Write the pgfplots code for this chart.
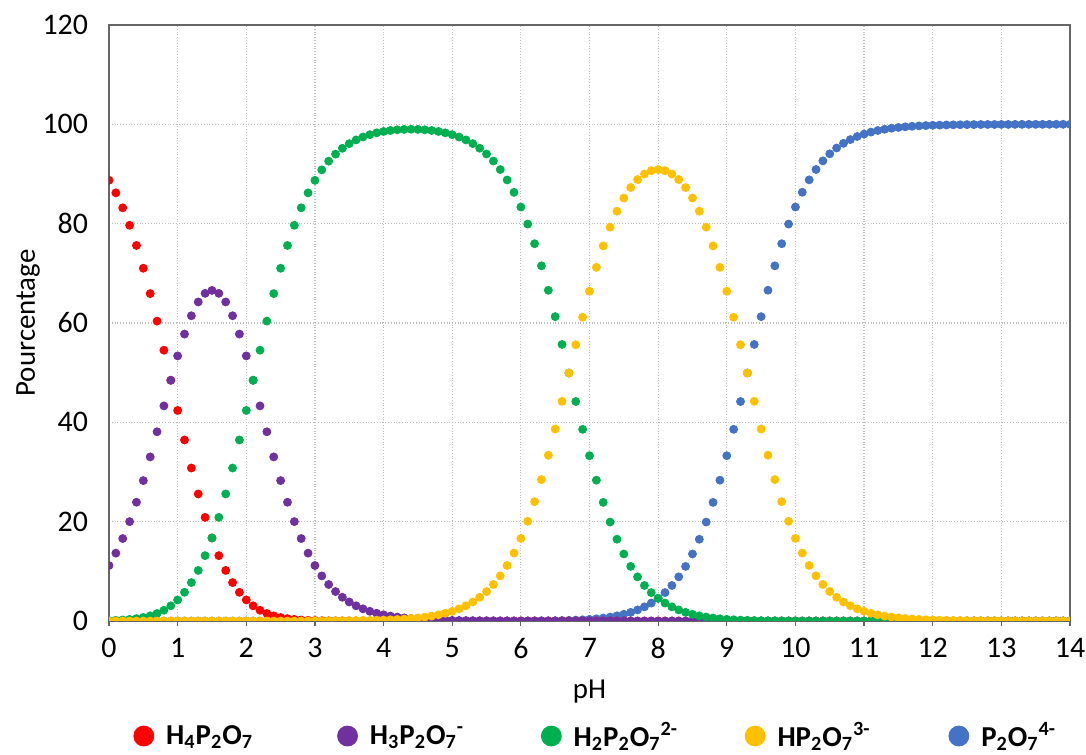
\documentclass[border=0pt]{standalone}
\usepackage{pgfplots}
\usepackage{pgfplotstable}
\pgfplotsset{compat=1.18}
\usepackage{fontspec}
\setmainfont{Carlito}
\definecolor{cRed}{HTML}{FF0000}
\definecolor{cPurple}{HTML}{7030A0}
\definecolor{cGreen}{HTML}{00B050}
\definecolor{cYellow}{HTML}{FFC000}
\definecolor{cBlue}{HTML}{4472C4}
\pgfplotstableread{
pH H4 H3 H2 H1 P
0.0 88.74 11.17 0.09 0 0
0.1 86.20 13.66 0.14 0 0
0.2 83.19 16.60 0.21 0 0
0.3 79.67 20.01 0.32 0 0
0.4 75.61 23.91 0.48 0 0
0.5 71.02 28.27 0.71 0 0
0.6 65.92 33.04 1.04 0 0
0.7 60.38 38.10 1.52 0 0
0.8 54.52 43.31 2.17 0 0
0.9 48.47 48.47 3.06 0 0
1.0 42.39 53.37 4.24 0 0
1.1 36.45 57.77 5.78 0 0
1.2 30.80 61.46 7.74 0 0
1.3 25.58 64.24 10.18 0 0
1.4 20.86 65.97 13.16 0 0
1.5 16.72 66.56 16.72 0 0
1.6 13.16 65.97 20.86 0 0
1.7 10.18 64.24 25.58 0 0
1.8 7.74 61.46 30.80 0 0
1.9 5.78 57.77 36.45 0 0
2.0 4.24 53.37 42.39 0 0
2.1 3.06 48.47 48.47 0 0
2.2 2.17 43.31 54.52 0 0
2.3 1.52 38.10 60.38 0 0
2.4 1.04 33.04 65.92 0 0
2.5 0.71 28.27 71.02 0 0
2.6 0.48 23.91 75.61 0 0
2.7 0.32 20.01 79.67 0 0
2.8 0.21 16.60 83.19 0.01 0
2.9 0.14 13.66 86.20 0.01 0
3.0 0.09 11.17 88.72 0.02 0
3.1 0.06 9.08 90.84 0.02 0
3.2 0.04 7.35 92.58 0.03 0
3.3 0.02 5.93 94.00 0.04 0
3.4 0.02 4.77 95.17 0.05 0
3.5 0.01 3.83 96.11 0.06 0
3.6 0 3.06 96.86 0.08 0
3.7 0 2.45 97.45 0.10 0
3.8 0 1.95 97.92 0.12 0
3.9 0 1.56 98.29 0.16 0
4.0 0 1.24 98.56 0.20 0
4.1 0 0.99 98.76 0.25 0
4.2 0 0.79 98.90 0.31 0
4.3 0 0.62 98.98 0.39 0
4.4 0 0.50 99.01 0.50 0
4.5 0 0.39 98.98 0.62 0
4.6 0 0.31 98.90 0.79 0
4.7 0 0.25 98.76 0.99 0
4.8 0 0.20 98.56 1.24 0
4.9 0 0.16 98.29 1.56 0
5.0 0 0.12 97.92 1.95 0
5.1 0 0.10 97.45 2.45 0
5.2 0 0.08 96.86 3.06 0
5.3 0 0.06 96.11 3.83 0
5.4 0 0.05 95.18 4.77 0
5.5 0 0.04 94.03 5.93 0
5.6 0 0.03 92.61 7.36 0
5.7 0 0.02 90.89 9.09 0
5.8 0 0.02 88.80 11.18 0
5.9 0 0.01 86.31 13.68 0
6.0 0 0.01 83.35 16.63 0.01
6.1 0 0 79.92 20.07 0.01
6.2 0 0 75.96 24.02 0.02
6.3 0 0 71.51 28.47 0.03
6.4 0 0 66.59 33.37 0.04
6.5 0 0 61.28 38.66 0.06
6.6 0 0 55.68 44.23 0.09
6.7 0 0 49.94 49.94 0.13
6.8 0 0 44.19 55.63 0.18
6.9 0 0 38.59 61.16 0.24
7.0 0 0 33.28 66.39 0.33
7.1 0 0 28.35 71.20 0.45
7.2 0 0 23.88 75.52 0.60
7.3 0 0 19.92 79.29 0.79
7.4 0 0 16.46 82.50 1.04
7.5 0 0 13.50 85.16 1.35
7.6 0 0 10.99 87.27 1.74
7.7 0 0 8.89 88.88 2.23
7.8 0 0 7.15 90.00 2.85
7.9 0 0 5.72 90.67 3.61
8.0 0 0 4.56 90.89 4.56
8.1 0 0 3.61 90.67 5.72
8.2 0 0 2.85 90.00 7.15
8.3 0 0 2.23 88.88 8.89
8.4 0 0 1.74 87.27 10.99
8.5 0 0 1.35 85.16 13.50
8.6 0 0 1.04 82.50 16.46
8.7 0 0 0.79 79.29 19.92
8.8 0 0 0.60 75.52 23.88
8.9 0 0 0.45 71.20 28.35
9.0 0 0 0.33 66.39 33.28
9.1 0 0 0.24 61.16 38.59
9.2 0 0 0.18 55.63 44.19
9.3 0 0 0.13 49.94 49.94
9.4 0 0 0.09 44.23 55.68
9.5 0 0 0.06 38.66 61.28
9.6 0 0 0.04 33.37 66.59
9.7 0 0 0.03 28.47 71.51
9.8 0 0 0.02 24.02 75.96
9.9 0 0 0.01 20.07 79.92
10.0 0 0 0.01 16.63 83.35
10.1 0 0 0 13.68 86.32
10.2 0 0 0 11.18 88.82
10.3 0 0 0 9.09 90.91
10.4 0 0 0 7.36 92.64
10.5 0 0 0 5.94 94.06
10.6 0 0 0 4.77 95.23
10.7 0 0 0 3.83 96.17
10.8 0 0 0 3.07 96.93
10.9 0 0 0 2.45 97.55
11.0 0 0 0 1.96 98.04
11.1 0 0 0 1.56 98.44
11.2 0 0 0 1.24 98.76
11.3 0 0 0 0.99 99.01
11.4 0 0 0 0.79 99.21
11.5 0 0 0 0.63 99.37
11.6 0 0 0 0.50 99.50
11.7 0 0 0 0.40 99.60
11.8 0 0 0 0.32 99.68
11.9 0 0 0 0.25 99.75
12.0 0 0 0 0.20 99.80
12.1 0 0 0 0.16 99.84
12.2 0 0 0 0.13 99.87
12.3 0 0 0 0.10 99.90
12.4 0 0 0 0.08 99.92
12.5 0 0 0 0.06 99.94
12.6 0 0 0 0.05 99.95
12.7 0 0 0 0.04 99.96
12.8 0 0 0 0.03 99.97
12.9 0 0 0 0.03 99.97
13.0 0 0 0 0.02 99.98
13.1 0 0 0 0.02 99.98
13.2 0 0 0 0.01 99.99
13.3 0 0 0 0.01 99.99
13.4 0 0 0 0.01 99.99
13.5 0 0 0 0.01 99.99
13.6 0 0 0 0.01 99.99
13.7 0 0 0 0 100
13.8 0 0 0 0 100
13.9 0 0 0 0 100
14.0 0 0 0 0 100
}\datatable
\begin{document}
\begin{tikzpicture}
\path[use as bounding box] (0,0) rectangle (543bp,377.5bp);
\begin{axis}[
  at={(54.5bp,67bp)}, anchor=south west,
  scale only axis, width=480.5bp, height=298bp,
  xmin=0, xmax=14, ymin=0, ymax=120,
  xtick={0,1,...,14}, ytick={0,20,...,120},
  xtick pos=bottom, ytick pos=left,
  tick align=outside, major tick length=2.5bp,
  xtick style={black!60, line width=0.6bp},
  ytick style={draw=none},
  axis line style={black!60, line width=0.6bp},
  grid=major,
  major grid style={densely dotted, black!25, line width=0.6bp},
  /pgf/number format/assume math mode=true,
  tick label style={font=\fontsize{15}{18}\selectfont},
  yticklabel style={xshift=-4.5bp},
  xticklabel style={yshift=-2.5bp},
  xlabel={pH}, ylabel={Pourcentage},
  every axis x label/.style={at={(axis description cs:0.5,-0.119)}, anchor=center, font=\fontsize{14.5}{17}\selectfont},
  every axis y label/.style={at={(axis description cs:-0.0843,0.5)}, anchor=center, rotate=90, font=\fontsize{14.5}{17}\selectfont},
  clip marker paths=true,
  legend columns=5,
  legend image code/.code={\fill[#1] (5bp,0bp) circle (5bp);},
  legend style={draw=none, fill=none, inner sep=0pt,
    at={(axis description cs:0.0250,-0.193)}, anchor=west,
    font=\fontsize{14.5}{17}\selectfont\bfseries,
    /tikz/every odd column/.append style={column sep=4bp},
    /tikz/every even column/.append style={column sep=18.5bp}},
]
\addplot[only marks, mark=*, color=cBlue, mark size=2bp, forget plot] table[x=pH, y=P] {\datatable};
\addplot[only marks, mark=*, color=cRed, mark size=2bp] table[x=pH, y=H4] {\datatable};
\addlegendentry{\makebox[65bp][l]{H\textsubscript{4}P\textsubscript{2}O\textsubscript{7}}}
\addplot[only marks, mark=*, color=cPurple, mark size=2bp] table[x=pH, y=H3] {\datatable};
\addlegendentry{\makebox[65bp][l]{H\textsubscript{3}P\textsubscript{2}O\textsubscript{7}\textsuperscript{-}}}
\addplot[only marks, mark=*, color=cGreen, mark size=2bp] table[x=pH, y=H2] {\datatable};
\addlegendentry{\makebox[65bp][l]{H\textsubscript{2}P\textsubscript{2}O\textsubscript{7}\textsuperscript{2-}}}
\addplot[only marks, mark=*, color=cYellow, mark size=2bp] table[x=pH, y=H1] {\datatable};
\addlegendentry{\makebox[65bp][l]{HP\textsubscript{2}O\textsubscript{7}\textsuperscript{3-}}}
\addlegendimage{only marks, mark=*, color=cBlue}
\addlegendentry{\makebox[65bp][l]{P\textsubscript{2}O\textsubscript{7}\textsuperscript{4-}}}
\end{axis}
\end{tikzpicture}
\end{document}
